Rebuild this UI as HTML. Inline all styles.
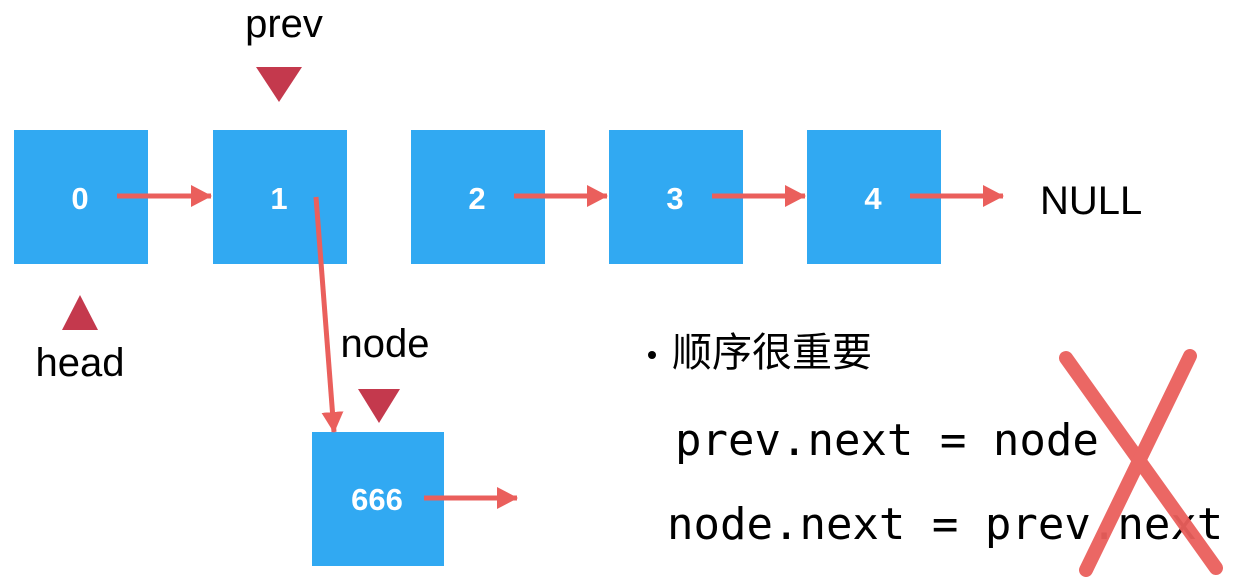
<!DOCTYPE html>
<html><head><meta charset="utf-8"><style>
html,body{margin:0;padding:0;background:#fff;}
svg{display:block;}
</style></head><body>
<svg width="1240" height="586" viewBox="0 0 1240 586" xmlns="http://www.w3.org/2000/svg">
<defs>
<marker id="ah" markerWidth="22" markerHeight="22" refX="20" refY="11" orient="auto" markerUnits="userSpaceOnUse">
<path d="M0,0 L21,11 L0,22 z" fill="#ea5f5c"/>
</marker>
</defs>
<g fill="#31a9f2">
<rect x="14" y="130" width="134" height="134"/>
<rect x="213" y="130" width="134" height="134"/>
<rect x="411" y="130" width="134" height="134"/>
<rect x="609" y="130" width="134" height="134"/>
<rect x="807" y="130" width="134" height="134"/>
<rect x="312" y="432" width="132" height="134"/>
</g>
<g font-family="Liberation Sans, sans-serif" font-weight="bold" font-size="31" fill="#fff" text-anchor="middle">
<text x="80" y="209">0</text>
<text x="279" y="209">1</text>
<text x="477" y="209">2</text>
<text x="675" y="209">3</text>
<text x="873" y="209">4</text>
<text x="377" y="510">666</text>
</g>
<g stroke="#ea5f5c" stroke-width="5" fill="none" marker-end="url(#ah)">
<line x1="117" y1="196" x2="211" y2="196"/>
<line x1="514" y1="196" x2="607" y2="196"/>
<line x1="712" y1="196" x2="805" y2="196"/>
<line x1="910" y1="196" x2="1003" y2="196"/>
<line x1="424" y1="498" x2="517" y2="498"/>
<line x1="316" y1="197" x2="334" y2="432"/>
</g>
<g fill="#c4394d">
<polygon points="256,67 302,67 279,102"/>
<polygon points="62,330 98,330 80,295"/>
<polygon points="358,389 400,389 379,423"/>
</g>
<g font-family="Liberation Sans, sans-serif" font-size="40" fill="#000">
<text x="284" y="37" text-anchor="middle">prev</text>
<text x="80" y="376" text-anchor="middle">head</text>
<text x="385" y="357" text-anchor="middle">node</text>
<text x="1040" y="214">NULL</text>
</g>
<circle cx="652" cy="355" r="4" fill="#000"/>
<text x="672" y="366" font-family="Liberation Sans, 'Noto Sans CJK SC', sans-serif" font-size="40" fill="#000">顺序很重要</text>
<g font-family="DejaVu Sans Mono, Liberation Mono, monospace" font-size="44" fill="#000">
<text x="675" y="455">prev.next = node</text>
<text x="667" y="539">node.next = prev.next</text>
</g>
<g stroke="#ea5f5c" stroke-width="14" stroke-linecap="round" opacity="0.95">
<line x1="1066" y1="358" x2="1216" y2="568"/>
<line x1="1190" y1="356" x2="1086" y2="570"/>
</g>
</svg>
</body></html>
